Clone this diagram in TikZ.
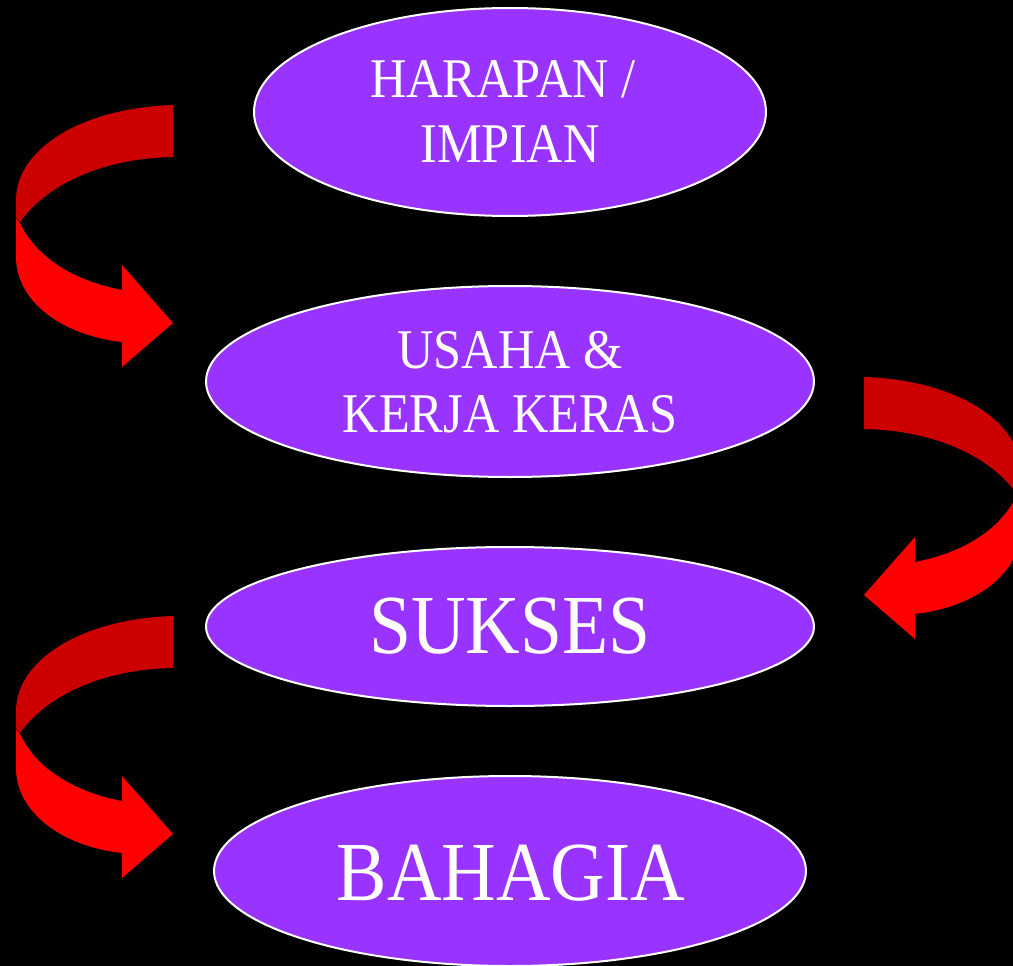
\documentclass[tikz,border=0pt]{standalone}
\usepackage{fontspec}
\newfontfamily\diafont[FakeStretch=0.9]{Liberation Serif}
\usetikzlibrary{shapes.geometric}
\definecolor{purp}{RGB}{153,51,255}
\definecolor{ribdark}{RGB}{204,0,0}
\definecolor{ribbright}{RGB}{255,0,0}
\tikzset{
  bubble/.style={ellipse, draw=white, line width=2pt, fill=purp, inner sep=0pt},
  lbl/.style={text=white, inner sep=0pt, anchor=base, font=\diafont\fontsize{56}{64}\selectfont},
  biglbl/.style={lbl, font=\diafont\fontsize{84}{96}\selectfont},
  ribbon/.pic={
    \fill[ribdark] (173,105) .. controls (80,108) and (16,150) .. (16,200) -- (16,217) -- (20,222)
      .. controls (50,180) and (110,158) .. (173,157) -- cycle;
    \fill[ribbright] (16,218) -- (16,257) .. controls (16,300) and (60,335) .. (122,342)
      -- (122,367) -- (173,323) -- (122,265) -- (122,290)
      .. controls (70,280) and (35,255) .. (20,223) -- cycle;
  }
}
\begin{document}
\begin{tikzpicture}[x=1pt,y=-1pt]
\useasboundingbox (0,0) rectangle (1013,966);
\fill[black] (0,0) rectangle (1013,966);
\begin{scope}
\clip (0,0) rectangle (1013,966);
% ellipses
\node[bubble, minimum width=512pt, minimum height=208pt] (e1) at (510,112) {};
\node[bubble, minimum width=608pt, minimum height=191pt] (e2) at (510,381.5) {};
\node[bubble, minimum width=608pt, minimum height=159pt] (e3) at (510,626.5) {};
\node[bubble, minimum width=592pt, minimum height=190pt] (e4) at (510,871) {};
% texts
\node[lbl] (t1a) at (503,98) {HARAPAN /};
\node[lbl] (t1b) at (510,162) {IMPIAN};
\node[lbl] (t2a) at (510,368) {USAHA \&};
\node[lbl] (t2b) at (510,432) {KERJA KERAS};
\node[biglbl] (t3) at (510,653) {SUKSES};
\node[biglbl] (t4) at (511,900) {BAHAGIA};
% ribbon arrows
\pic at (0,0) {ribbon};
\pic[xscale=-1] at (1037,272) {ribbon};
\pic at (0,511) {ribbon};
\end{scope}
\end{tikzpicture}
\end{document}
